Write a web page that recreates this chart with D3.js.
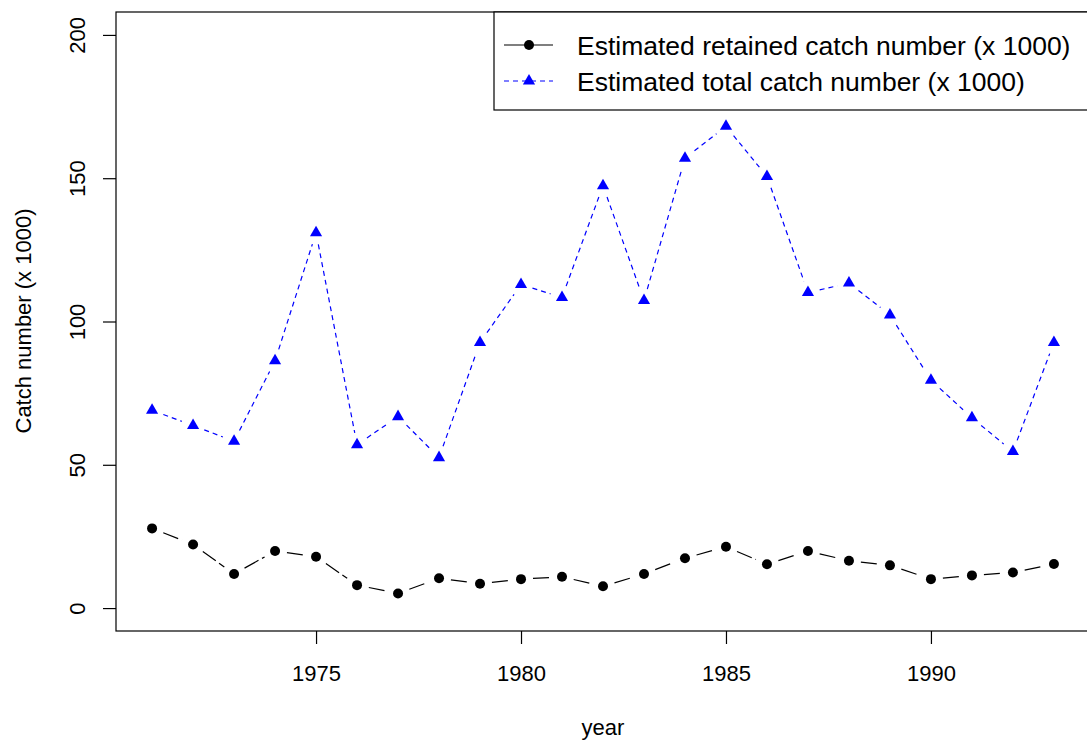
<!DOCTYPE html>
<html>
<head>
<meta charset="utf-8">
<script src="https://cdn.jsdelivr.net/npm/d3@7"></script>
<style>
  body { margin: 0; background: #fff; }
  svg { display: block; }
  text { font-family: Arial, "Liberation Sans", sans-serif; }
</style>
</head>
<body>
<div id="canvas"></div>
<script>
const width = 1087;
const height = 743;

// data
const years = [1971, 1972, 1973, 1974, 1975, 1976, 1977, 1978, 1979, 1980, 1981, 1982,
               1983, 1984, 1985, 1986, 1987, 1988, 1989, 1990, 1991, 1992, 1993];
const retained = [27.8, 22.2, 11.9, 19.9, 17.9, 8.0, 5.1, 10.4, 8.5, 10.1, 10.9, 7.6,
                  11.9, 17.4, 21.4, 15.3, 19.9, 16.5, 14.9, 10.1, 11.4, 12.4, 15.4];
const total = [69.0, 63.7, 58.2, 86.3, 131.0, 57.0, 66.8, 52.5, 92.7, 112.9, 108.4, 147.4,
               107.3, 157.0, 168.1, 150.6, 110.1, 113.4, 102.3, 79.5, 66.4, 54.6, 92.7];
const xTicks = [1975, 1980, 1985, 1990];
const yTicks = [0, 50, 100, 150, 200];
const seriesNames = ['Estimated retained catch number (x 1000)', 'Estimated total catch number (x 1000)'];

const svg = d3.select('#canvas').append('svg')
  .attr('width', width)
  .attr('height', height);

const pLeft = 116, pRight = 1090, pTop = 12, pBottom = 631;

const xScale = d3.scaleLinear().domain([1970.12, 1993.88]).range([pLeft, pRight]);
const yScale = d3.scaleLinear().domain([-8, 208]).range([pBottom, pTop]);

// axes
const xAxis = d3.axisBottom(xScale).tickValues(xTicks).tickSize(13).tickSizeOuter(0).tickFormat(d3.format('d'));
const yAxis = d3.axisLeft(yScale).tickValues(yTicks).tickSize(13).tickSizeOuter(0);

const gx = svg.append('g').attr('transform', `translate(0,${pBottom})`).call(xAxis);
gx.select('.domain').remove();
gx.selectAll('line').attr('stroke', '#000').attr('stroke-width', 1.2);
gx.selectAll('text')
  .attr('y', 50).attr('dy', 0)
  .attr('font-size', 22).attr('fill', '#000')
  .attr('font-family', 'Arial, "Liberation Sans", sans-serif');

const gy = svg.append('g').attr('transform', `translate(${pLeft},0)`).call(yAxis);
gy.select('.domain').remove();
gy.selectAll('line').attr('stroke', '#000').attr('stroke-width', 1.2);
gy.selectAll('text')
  .attr('transform', 'rotate(-90)')
  .attr('x', 0).attr('y', -31).attr('dy', 0)
  .attr('text-anchor', 'middle')
  .attr('font-size', 22).attr('fill', '#000')
  .attr('font-family', 'Arial, "Liberation Sans", sans-serif');

// plot box
svg.append('rect')
  .attr('x', pLeft).attr('y', pTop)
  .attr('width', pRight - pLeft).attr('height', pBottom - pTop)
  .attr('fill', 'none').attr('stroke', '#000').attr('stroke-width', 1.2);

// axis titles
svg.append('text')
  .attr('x', 603).attr('y', 735)
  .attr('text-anchor', 'middle').attr('font-size', 22)
  .text('year');

svg.append('text')
  .attr('transform', 'translate(31,321) rotate(-90)')
  .attr('text-anchor', 'middle').attr('font-size', 22)
  .text('Catch number (x 1000)');

// lines with gaps round the points (type = "b")
const gap = 12;
const line = d3.line();
function gappedSegments(values) {
  const segs = [];
  for (let i = 0; i < values.length - 1; i++) {
    const x0 = xScale(years[i]), y0 = yScale(values[i]);
    const x1 = xScale(years[i + 1]), y1 = yScale(values[i + 1]);
    const len = Math.hypot(x1 - x0, y1 - y0);
    if (len <= 2 * gap) continue;
    const ux = (x1 - x0) / len, uy = (y1 - y0) / len;
    segs.push([[x0 + ux * gap, y0 + uy * gap], [x1 - ux * gap, y1 - uy * gap]]);
  }
  return segs;
}

svg.append('g').selectAll('path')
  .data(gappedSegments(total))
  .join('path')
  .attr('d', d => line(d))
  .attr('fill', 'none').attr('stroke', '#0000ff').attr('stroke-width', 1.2)
  .attr('stroke-dasharray', '5,4');

svg.append('g').selectAll('path')
  .data(gappedSegments(retained))
  .join('path')
  .attr('d', d => line(d))
  .attr('fill', 'none').attr('stroke', '#000').attr('stroke-width', 1.2)
  .attr('stroke-dasharray', '16,4');

const tri = d3.symbol().type(d3.symbolTriangle).size(64);

svg.append('g').selectAll('path')
  .data(total)
  .join('path')
  .attr('d', tri)
  .attr('transform', (d, i) => `translate(${xScale(years[i])},${yScale(d)})`)
  .attr('fill', '#0000ff');

svg.append('g').selectAll('circle')
  .data(retained)
  .join('circle')
  .attr('cx', (d, i) => xScale(years[i]))
  .attr('cy', d => yScale(d))
  .attr('r', 5)
  .attr('fill', '#000');

// legend
const legend = svg.append('g');
legend.append('rect')
  .attr('x', 494).attr('y', pTop)
  .attr('width', pRight - 494).attr('height', 110 - pTop)
  .attr('fill', '#fff').attr('stroke', '#000').attr('stroke-width', 1.2);

const rows = [
  { name: seriesNames[0], color: '#000', dash: null, y: 45, mark: 'circle' },
  { name: seriesNames[1], color: '#0000ff', dash: '5,4', y: 81, mark: 'triangle' }
];
rows.forEach(r => {
  legend.append('line')
    .attr('x1', 504).attr('x2', 553).attr('y1', r.y).attr('y2', r.y)
    .attr('stroke', r.color).attr('stroke-width', 1.2)
    .attr('stroke-dasharray', r.dash);
  if (r.mark === 'circle') {
    legend.append('circle').attr('cx', 529).attr('cy', r.y).attr('r', 5).attr('fill', r.color);
  } else {
    legend.append('path').attr('d', tri).attr('transform', `translate(529,${r.y})`).attr('fill', r.color);
  }
  legend.append('text')
    .attr('x', 577).attr('y', r.y + 9.5)
    .attr('font-size', 26.5)
    .text(r.name);
});
</script>
</body>
</html>
